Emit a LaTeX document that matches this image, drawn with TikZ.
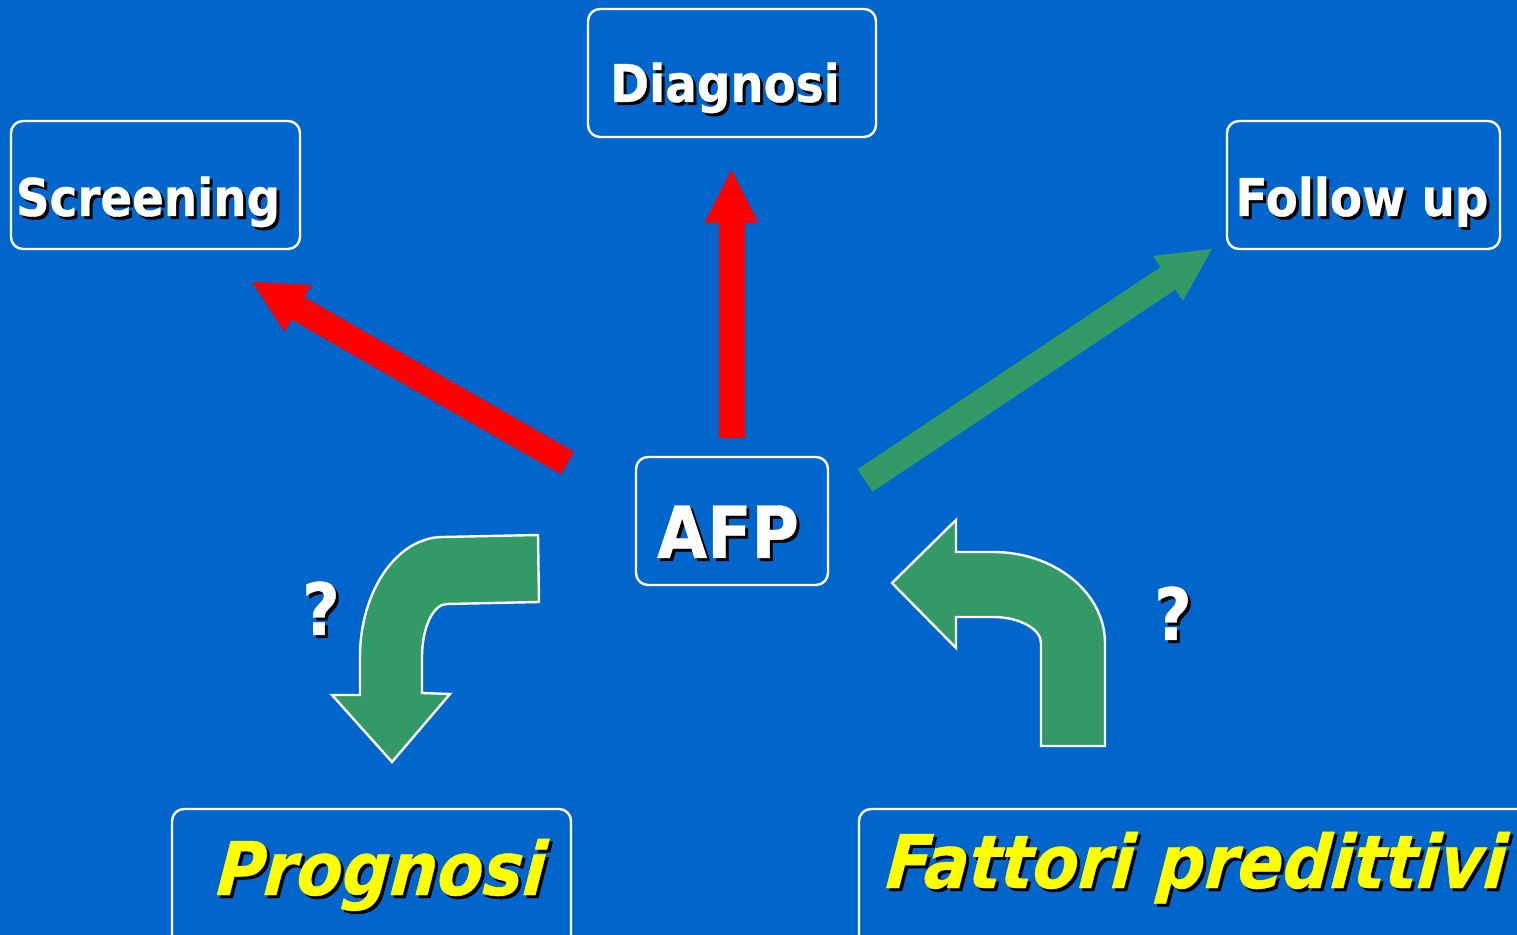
\documentclass[tikz,border=0pt]{standalone}
\usepackage{fontspec}
\usetikzlibrary{arrows.meta}
\newfontfamily\slidefont{DejaVu Sans}[FakeStretch=0.9,
  BoldFont={DejaVu Sans Bold}, ItalicFont={DejaVu Sans Oblique},
  BoldItalicFont={DejaVu Sans Bold Oblique},
  BoldFeatures={FakeBold=0.6}, BoldItalicFeatures={FakeSlant=0.08, FakeBold=0.6}]
\definecolor{slideblue}{RGB}{0,102,204}
\definecolor{slidegreen}{RGB}{51,153,102}
\definecolor{slideyellow}{RGB}{255,255,0}
\newcommand{\shadowed}[1]{\rlap{\hspace{1.5pt}\raisebox{-1.5pt}{\color{black}#1}}#1}
\begin{document}
\begin{tikzpicture}[x=0.5pt, y=-0.5pt,
    box/.style={draw=white, line width=1.2pt, rounded corners=6pt, minimum height=64pt, inner sep=0pt},
    small/.style={anchor=base, inner sep=0pt, text=white, font=\slidefont\bfseries\fontsize{26}{30}\selectfont},
    big/.style={anchor=base, inner sep=0pt, text=white, font=\slidefont\bfseries\fontsize{36}{42}\selectfont},
    slanted/.style={anchor=base, inner sep=0pt, text=slideyellow, font=\slidefont\bfseries\itshape\fontsize{37}{44}\selectfont},
    redarrow/.style={draw=red, line width=13pt, -{Triangle[length=26.5pt, width=27pt, line width=0pt]}},
    greenarrow/.style={draw=slidegreen, line width=13.5pt, -{Triangle[length=26.5pt, width=27pt, line width=0pt]}},
    bent/.style={fill=slidegreen, draw=white, line width=1.2pt}]
  \clip (0,0) rectangle (1517,935);
  \fill[slideblue] (0,0) rectangle (1517,935);
  \node (screening) at (155.5,185) [box, minimum width=144.5pt] {};
  \node (diagnosi) at (732,73) [box, minimum width=144pt] {};
  \node (followup) at (1363.5,185) [box, minimum width=136.5pt] {};
  \node (afp) at (732,521) [box, minimum width=96pt] {};
  \node (prognosi) at (371.5,880) [box, minimum width=199.5pt, minimum height=71pt] {};
  \node (fattori) at (1199.5,880) [box, minimum width=340.5pt, minimum height=71pt] {};
  \node (screeningtext) at (148,216) [small] {\shadowed{Screening}};
  \node (diagnositext) at (725,102) [small] {\shadowed{Diagnosi}};
  \node (followuptext) at (1362,216) [small] {\shadowed{Follow up}};
  \node (afptext) at (728,558) [big] {\shadowed{AFP}};
  \node (prognositext) at (380,895) [slanted] {\shadowed{Prognosi}};
  \node (fattoritext) at (1195,888) [slanted] {\shadowed{Fattori predittivi}};
  \node (qleft) at (321,635) [big] {\shadowed{?}};
  \node (qright) at (1173,640) [big] {\shadowed{?}};
  \coordinate (redleft) at (567.5,463);
  \coordinate (redlefttip) at (252,282);
  \coordinate (redup) at (731.5,438);
  \coordinate (reduptip) at (731.5,170);
  \coordinate (greenright) at (865,480.5);
  \coordinate (greenrighttip) at (1212,249);
  \draw[redarrow] (redleft) -- (redlefttip);
  \draw[redarrow] (redup) -- (reduptip);
  \draw[greenarrow] (greenright) -- (greenrighttip);
  \draw[bent] (538,535) -- (443,537) .. controls (397,537) and (360,591) .. (360,657)
    -- (360,695) -- (332,695) -- (392,762) -- (450,694) -- (422,693) -- (422,657)
    .. controls (422,628) and (433,604) .. (447,604) -- (539,602) -- cycle;
  \draw[bent] (892,583) -- (956,520) -- (956,552) -- (993,552)
    .. controls (1055,552) and (1105,593) .. (1105,643) -- (1105,746) -- (1041,746)
    -- (1041,643) .. controls (1041,629) and (1019.5,617) .. (993,617) -- (956,617)
    -- (956,648) -- cycle;
\end{tikzpicture}
\end{document}
